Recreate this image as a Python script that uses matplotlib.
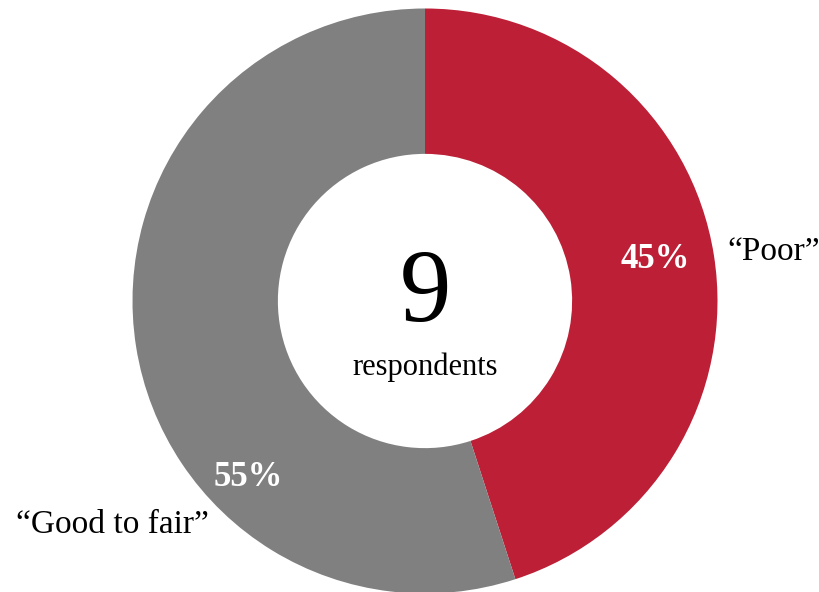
import matplotlib
matplotlib.use("Agg")
import matplotlib.pyplot as plt

categories = ["\u201cPoor\u201d", "\u201cGood to fair\u201d"]
shares = [45, 55]
pct_labels = ["45%", "55%"]
respondents = 9
colors = ["#BC1F36", "#808080"]

W, H = 819, 592
fig = plt.figure(figsize=(W / 100, H / 100), dpi=100)
ax = fig.add_axes([0, 0, 1, 1])

cx, cy, R = 425, H - 301, 292.5
ax.pie(shares, colors=colors, startangle=90, counterclock=False,
       center=(cx, cy), radius=R, frame=True,
       wedgeprops=dict(width=R * 0.497, linewidth=0))
ax.set_xlim(0, W)
ax.set_ylim(0, H)
ax.set_aspect("equal")
ax.axis("off")

font = "Liberation Serif"
# percentage labels
ax.text(655, H - 259, pct_labels[0], color="white", fontsize=25, fontweight="bold",
        family=font, ha="center", va="center")
ax.text(248, H - 478, pct_labels[1], color="white", fontsize=25, fontweight="bold",
        family=font, ha="center", va="center")
# category labels
ax.text(727, H - 252, categories[0], color="black", fontsize=24, family=font,
        ha="left", va="center")
ax.text(112, H - 525, categories[1], color="black", fontsize=24, family=font,
        ha="center", va="center")
# center
ax.text(cx, H - 296, str(respondents), color="black", fontsize=74, family=font,
        ha="center", va="center")
ax.text(cx, H - 367, "respondents", color="black", fontsize=22, family=font,
        ha="center", va="center")

fig.savefig("out.png", dpi=100)
